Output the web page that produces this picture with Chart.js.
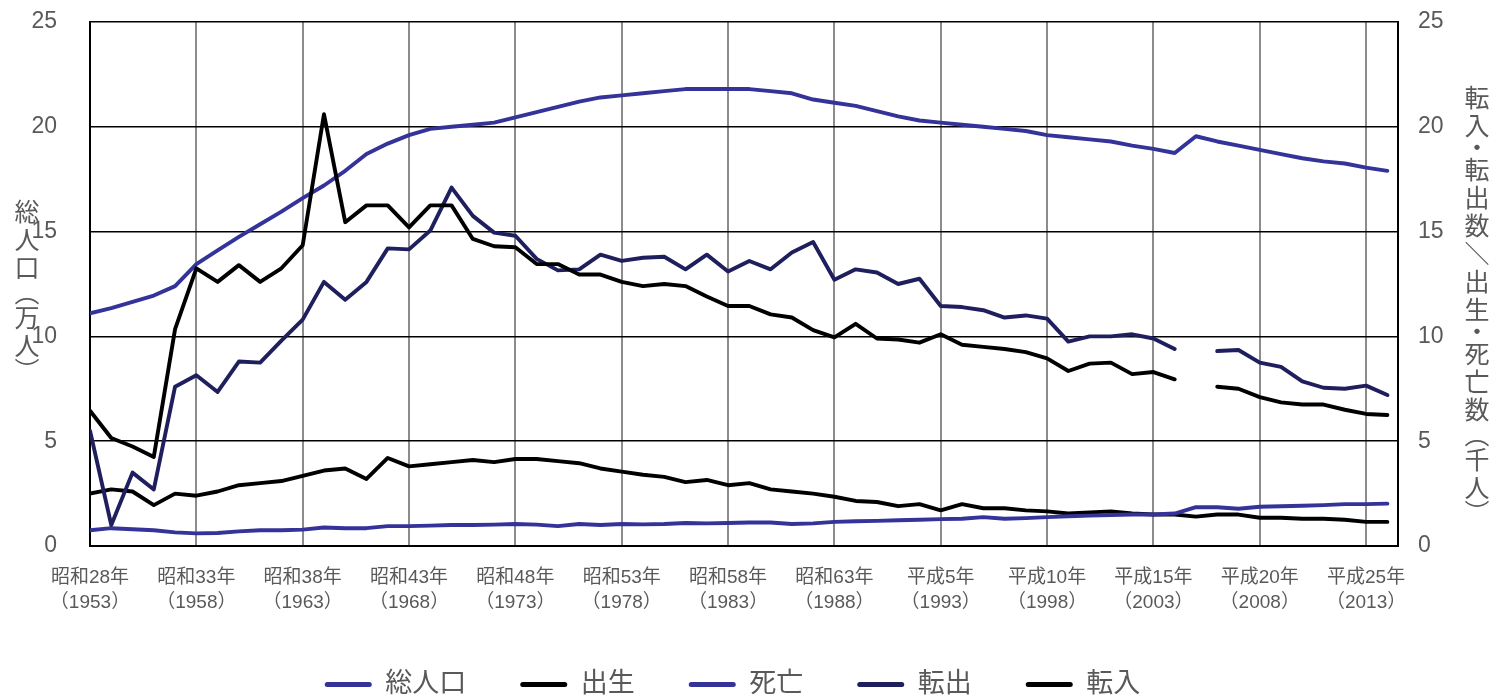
<!DOCTYPE html>
<html>
<head>
<meta charset="utf-8">
<script src="https://cdn.jsdelivr.net/npm/chart.js@4.4.1/dist/chart.umd.min.js"></script>
<style>
html, body { margin: 0; padding: 0; background: #fff; }
</style>
</head>
<body>
<canvas id="myChart" width="1493" height="698"></canvas>
<script>
var years = [1953, 1954, 1955, 1956, 1957, 1958, 1959, 1960, 1961, 1962,
	1963, 1964, 1965, 1966, 1967, 1968, 1969, 1970, 1971, 1972,
	1973, 1974, 1975, 1976, 1977, 1978, 1979, 1980, 1981, 1982,
	1983, 1984, 1985, 1986, 1987, 1988, 1989, 1990, 1991, 1992,
	1993, 1994, 1995, 1996, 1997, 1998, 1999, 2000, 2001, 2002,
	2003, 2004, 2005, 2006, 2007, 2008, 2009, 2010, 2011, 2012,
	2013, 2014];

// 総人口 (万人)
var population = [11.1, 11.35, 11.65, 11.95, 12.4, 13.45, 14.1, 14.75, 15.35, 15.95,
	16.6, 17.2, 17.9, 18.7, 19.2, 19.6, 19.9, 20.0, 20.1, 20.2,
	20.45, 20.7, 20.95, 21.2, 21.4, 21.5, 21.6, 21.7, 21.8, 21.8,
	21.8, 21.8, 21.7, 21.6, 21.3, 21.15, 21.0, 20.75, 20.5, 20.3,
	20.2, 20.1, 20.0, 19.9, 19.8, 19.6, 19.5, 19.4, 19.3, 19.1,
	18.95, 18.75, 19.55, 19.3, 19.1, 18.9, 18.7, 18.5, 18.35, 18.25,
	18.05, 17.9];

// 出生 (千人)
var births = [2.5, 2.7, 2.6, 1.95, 2.5, 2.4, 2.6, 2.9, 3.0, 3.1,
	3.35, 3.6, 3.7, 3.2, 4.2, 3.8, 3.9, 4.0, 4.1, 4.0,
	4.15, 4.15, 4.05, 3.95, 3.7, 3.55, 3.4, 3.3, 3.05, 3.15,
	2.9, 3.0, 2.7, 2.6, 2.5, 2.35, 2.15, 2.1, 1.9, 2.0,
	1.7, 2.0, 1.8, 1.8, 1.7, 1.65, 1.55, 1.6, 1.65, 1.55,
	1.5, 1.5, 1.4, 1.5, 1.5, 1.35, 1.35, 1.3, 1.3, 1.25,
	1.15, 1.15];

// 死亡 (千人)
var deaths = [0.75, 0.85, 0.8, 0.75, 0.65, 0.6, 0.62, 0.7, 0.75, 0.75,
	0.78, 0.88, 0.85, 0.85, 0.95, 0.95, 0.97, 1.0, 1.0, 1.02,
	1.05, 1.02, 0.95, 1.05, 1.0, 1.05, 1.03, 1.05, 1.1, 1.08,
	1.1, 1.12, 1.12, 1.05, 1.08, 1.15, 1.18, 1.2, 1.23, 1.25,
	1.28, 1.3, 1.38, 1.3, 1.33, 1.38, 1.42, 1.45, 1.48, 1.5,
	1.5, 1.55, 1.85, 1.85, 1.78, 1.87, 1.9, 1.92, 1.95, 2.0,
	2.0, 2.02];

// 転出 (千人)
var outflow = [5.5, 1.0, 3.5, 2.7, 7.6, 8.15, 7.35, 8.8, 8.75, 9.8,
	10.8, 12.6, 11.75, 12.6, 14.2, 14.15, 15.05, 17.1, 15.75, 14.95,
	14.8, 13.7, 13.15, 13.2, 13.9, 13.6, 13.75, 13.8, 13.2, 13.9,
	13.1, 13.6, 13.2, 14.0, 14.5, 12.7, 13.2, 13.05, 12.5, 12.75,
	11.45, 11.4, 11.25, 10.9, 11.0, 10.85, 9.75, 10.0, 10.0, 10.1,
	9.9, 9.4, null, 9.3, 9.35, 8.75, 8.55, 7.85, 7.55, 7.5,
	7.65, 7.2];

// 転入 (千人)
var inflow = [6.45, 5.15, 4.75, 4.25, 10.35, 13.25, 12.6, 13.4, 12.6, 13.25,
	14.35, 20.6, 15.45, 16.25, 16.25, 15.2, 16.25, 16.25, 14.65, 14.3,
	14.25, 13.45, 13.45, 12.95, 12.95, 12.6, 12.4, 12.5, 12.4, 11.9,
	11.45, 11.45, 11.05, 10.9, 10.3, 9.95, 10.6, 9.9, 9.85, 9.7,
	10.1, 9.6, 9.5, 9.4, 9.25, 8.95, 8.35, 8.7, 8.75, 8.2,
	8.3, 7.95, null, 7.6, 7.5, 7.1, 6.85, 6.75, 6.75, 6.5,
	6.3, 6.25];

var xTickYears = [1953, 1958, 1963, 1968, 1973, 1978, 1983, 1988, 1993, 1998, 2003, 2008, 2013];
var xTickEra = ['昭和28年', '昭和33年', '昭和38年', '昭和43年', '昭和48年', '昭和53年', '昭和58年',
	'昭和63年', '平成5年', '平成10年', '平成15年', '平成20年', '平成25年'];

var leftTitle = '総人口︵万人︶';
var rightTitle = '転入・転出数＼出生・死亡数︵千人︶';

var textColor = '#595959';
var fontFamily = '"Liberation Sans", "Noto Sans CJK JP", sans-serif';
var blue = '#333399';
var navy = '#1f1f5e';

function pts(values) {
	return years.map(function(y, i) { return { x: y, y: values[i] }; });
}

function drawVertical(ctx, text, x, y) {
	for (var ch of text) {
		var adv = ch === '・' ? 16 : ('︵︶'.indexOf(ch) >= 0 ? 22 : 28);
		ctx.fillText(ch, x, y + adv / 2);
		y += adv;
	}
}

var verticalTitles = {
	id: 'verticalTitles',
	afterDraw: function(chart) {
		var ctx = chart.ctx;
		ctx.save();
		ctx.fillStyle = textColor;
		ctx.font = '25px "Noto Sans CJK JP"';
		ctx.textAlign = 'center';
		ctx.textBaseline = 'middle';
		drawVertical(ctx, leftTitle, 27, 197);
		drawVertical(ctx, rightTitle, 1477, 83);
		ctx.restore();
	}
};

function noPad(scale, w) {
	scale.width = w;
	scale.paddingTop = 0;
	scale.paddingBottom = 0;
}

function line(label, values, color, order, axis) {
	return {
		label: label,
		data: pts(values),
		borderColor: color,
		backgroundColor: color,
		borderWidth: 3.9,
		pointRadius: 0,
		borderJoinStyle: 'round',
		borderCapStyle: 'round',
		tension: 0,
		spanGaps: false,
		order: order,
		yAxisID: axis
	};
}

var ctx = document.getElementById('myChart').getContext('2d');
new Chart(ctx, {
	type: 'line',
	data: {
		datasets: [
			line('総人口', population, blue, 5, 'y'),
			line('出生', births, '#000000', 4, 'y1'),
			line('死亡', deaths, blue, 3, 'y1'),
			line('転出', outflow, navy, 2, 'y1'),
			line('転入', inflow, '#000000', 1, 'y1')
		]
	},
	options: {
		responsive: false,
		animation: false,
		layout: { padding: { top: 22, left: 0, right: 28, bottom: -10 } },
		plugins: {
			tooltip: { enabled: false },
			legend: {
				position: 'bottom',
				labels: {
					color: textColor,
					font: { size: 27, family: fontFamily },
					boxWidth: 47,
					boxHeight: 5,
					useBorderRadius: true,
					borderRadius: 2.5,
					padding: 54,
					sort: function(a, b) { return a.datasetIndex - b.datasetIndex; },
					generateLabels: function(chart) {
						var items = Chart.defaults.plugins.legend.labels.generateLabels(chart);
						items.forEach(function(it) { it.lineWidth = 0; });
						return items;
					}
				}
			}
		},
		scales: {
			x: {
				type: 'linear',
				min: 1953,
				max: 2014.5,
				afterBuildTicks: function(scale) {
					scale.ticks = xTickYears.map(function(v) { return { value: v }; });
				},
				afterFit: function(scale) { scale.height = 71; },
				ticks: {
					autoSkip: false,
					maxRotation: 0,
					padding: 19,
					color: textColor,
					font: { size: 19, family: fontFamily, lineHeight: 1.33 },
					callback: function(value) {
						var i = xTickYears.indexOf(value);
						return i < 0 ? '' : [xTickEra[i], '（' + value + '）'];
					}
				},
				grid: {
					drawTicks: false,
					lineWidth: 2,
					color: function(c) {
						return c.tick && c.tick.value === 1953 ? 'rgba(0,0,0,0)' : '#8c8c8c';
					}
				},
				border: { display: true, color: '#000', width: 2 }
			},
			y: {
				position: 'left',
				min: 0,
				max: 25,
				afterFit: function(scale) { noPad(scale, 90); },
				ticks: {
					stepSize: 5,
					padding: 33,
					color: textColor,
					font: { size: 23, family: fontFamily }
				},
				grid: { drawTicks: false, color: '#000', lineWidth: 1.5 },
				border: { display: true, color: '#000', width: 2 }
			},
			y1: {
				position: 'right',
				min: 0,
				max: 25,
				afterFit: function(scale) { noPad(scale, 67); },
				ticks: {
					stepSize: 5,
					padding: 20,
					color: textColor,
					font: { size: 23, family: fontFamily }
				},
				grid: { drawOnChartArea: false, drawTicks: false },
				border: { display: true, color: '#000', width: 2 }
			}
		}
	},
	plugins: [verticalTitles]
});
</script>
</body>
</html>
